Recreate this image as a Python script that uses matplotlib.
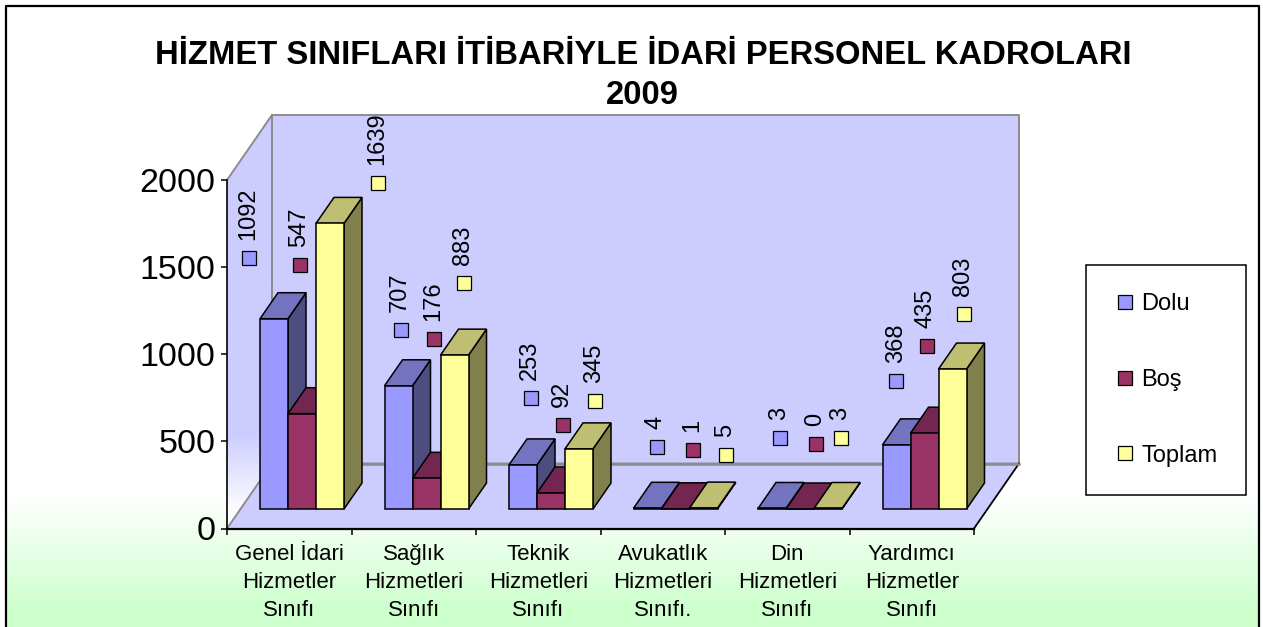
import numpy as np
import matplotlib
matplotlib.use("Agg")
import matplotlib.pyplot as plt
from matplotlib.patches import Polygon
from matplotlib.lines import Line2D

plt.rcParams['font.family'] = ['Liberation Sans', 'DejaVu Sans']

categories = ["Genel İdari\nHizmetler\nSınıfı", "Sağlık\nHizmetleri\nSınıfı", "Teknik\nHizmetleri\nSınıfı",
              "Avukatlık\nHizmetleri\nSınıfı.", "Din\nHizmetleri\nSınıfı", "Yardımcı\nHizmetler\nSınıfı"]
dolu = [1092, 707, 253, 4, 3, 368]
bos = [547, 176, 92, 1, 0, 435]
toplam = [1639, 883, 345, 5, 3, 803]
series_names = ["Dolu", "Boş", "Toplam"]
yticks = [0, 500, 1000, 1500, 2000]

# face, top, side
colors_blue = ["#9999FF", "#7373BF", "#4D4D80"]
colors_red = ["#993366", "#732650", "#4D1A33"]
colors_yellow = ["#FFFF99", "#BFBF73", "#80804D"]

# where the value labels sit, pixels from the centre and top of their bar
label_dx = [[-25, 2, 8, 9, 8, 0], [-2, 7, 12, 17, 16, 2], [48, 9, 16, 22, 13, 11]]
label_lift = [[61, 56, 67, 61, 70, 64], [149, 139, 68, 59, 65, 87], [40, 72, 48, 53, 70, 55]]

W = 1263
H = 627
fig = plt.figure(figsize=(W/100, H/100), dpi=100, facecolor="white")

#######################################
# background and outer frame
#######################################
bg = fig.add_axes([0, 0, 1, 1])
bg.set_xlim(0, W)
bg.set_ylim(H, 0)
bg.axis("off")
t = np.clip((np.arange(H) - 495) / 115.0, 0, 1)[:, None]
grad = np.dstack([1 - 0.2*t, np.ones_like(t), 1 - 0.2*t])
bg.imshow(grad, extent=[6, 1259, H, 0], aspect="auto", zorder=0)
bg.set_xlim(0, W)
bg.set_ylim(H, 0)
bg.plot([6, 6, 1259, 1259], [H, 5.5, 5.5, H], color="black", lw=1.6, zorder=1)

#######################################
# main axes is the front plane of the box
#######################################
x0, x1, ytop, ybot = 227, 974, 180, 528.5
ax = fig.add_axes([x0/W, (H-ybot)/H, (x1-x0)/W, (ybot-ytop)/H])
ax.set_xlim(0, 6)
ax.set_ylim(0, 2000)
ax.patch.set_visible(False)
pxx = (x1-x0)/6.0
pxy = (ybot-ytop)/2000.0

wall_dx = 45/pxx
wall_dy = 65/pxy
ymax = 2000

# left wall fades to white at the bottom
wallcol = np.array([0xCC, 0xCC, 0xFF])/255.0
wall_rows = np.linspace(115, ybot, 200)
f = np.clip((wall_rows - 435) / 80.0, 0, 1)[:, None]
wall_img = np.dstack([wallcol[0] + (1-wallcol[0])*f, wallcol[1] + (1-wallcol[1])*f, np.ones_like(f)])
left_poly = Polygon([(0, 0), (wall_dx, wall_dy), (wall_dx, ymax+wall_dy), (0, ymax)], closed=True,
                    transform=ax.transData, fc="none", ec="none")
ax.add_patch(left_poly)
left_poly.set_clip_on(False)
im = ax.imshow(wall_img, extent=[0, wall_dx, 0, ymax+wall_dy], aspect="auto", origin="upper", zorder=1)
im.set_clip_box(fig.bbox)
im.set_clip_path(left_poly)
ax.set_xlim(0, 6)
ax.set_ylim(0, 2000)

ax.add_patch(Polygon([(wall_dx, wall_dy), (6+wall_dx, wall_dy), (6+wall_dx, ymax+wall_dy), (wall_dx, ymax+wall_dy)],
                     closed=True, fc="#CCCCFF", ec="none", clip_on=False, zorder=1))
ax.add_patch(Polygon([(0, 0), (6, 0), (6+wall_dx, wall_dy), (wall_dx, wall_dy)],
                     closed=True, fc="#CCCCFF", ec="none", clip_on=False, zorder=1))
grey = "#8C8C8C"
for xs, ys in [([0, wall_dx, 6+wall_dx, 6+wall_dx, wall_dx, wall_dx], [ymax, ymax+wall_dy, ymax+wall_dy, wall_dy, wall_dy, ymax+wall_dy]),
               ([0, wall_dx], [0, wall_dy])]:
    ax.plot(xs, ys, color=grey, lw=1.4, clip_on=False, zorder=1.5)
ax.plot([6, 6+wall_dx], [0, wall_dy], color="black", lw=1.3, clip_on=False, zorder=1.5)
ax.plot([wall_dx, 6+wall_dx], [wall_dy, wall_dy], color=grey, lw=1.8, clip_on=False, zorder=1.5)

#######################################
# bars
#######################################
bar_start = 33/pxx
bar_w = 28/pxx
base = 19.5/pxy
depth_x = 18/pxx
depth_y = 26/pxy
all_series = [dolu, bos, toplam]
all_colors = [colors_blue, colors_red, colors_yellow]
z = 3
for i in range(len(categories)):
    for s in range(3):
        v = all_series[s][i]
        c = all_colors[s]
        left = i + bar_start + s*bar_w
        top = base + v
        ax.add_patch(Polygon([(left+bar_w, base), (left+bar_w+depth_x, base+depth_y), (left+bar_w+depth_x, top+depth_y), (left+bar_w, top)],
                             closed=True, fc=c[2], ec="black", lw=1.1, clip_on=False, zorder=z))
        ax.add_patch(Polygon([(left, top), (left+bar_w, top), (left+bar_w+depth_x, top+depth_y), (left+depth_x, top+depth_y)],
                             closed=True, fc=c[1], ec="black", lw=1.1, clip_on=False, zorder=z))
        ax.bar(left, v, bar_w, bottom=base, align="edge", color=c[0], edgecolor="black", lw=1.1, clip_on=False, zorder=z)
        z += 1

ax.set_xlim(0, 6)
ax.set_ylim(0, 2000)

#######################################
# value labels with their small keys
#######################################
for s in range(3):
    for i in range(len(categories)):
        v = all_series[s][i]
        kx = i + bar_start + (s+0.5)*bar_w + label_dx[s][i]/pxx
        ky = base + v + label_lift[s][i]/pxy
        ax.plot([kx], [ky], marker="s", ms=10.5, mfc=all_colors[s][0], mec="black", mew=0.9, ls="none", clip_on=False, zorder=50)
        ax.annotate(str(v), (kx, ky), xytext=(-0.5, 13), textcoords="offset points", rotation=90,
                    ha="center", va="bottom", fontsize=17, annotation_clip=False, zorder=50)

#######################################
# axes decoration
#######################################
for name in ["right", "top"]:
    ax.spines[name].set_visible(False)
ax.spines["bottom"].set_linewidth(1.6)
ax.spines["bottom"].set_zorder(2)
ax.spines["left"].set_linewidth(1.2)
ax.spines["left"].set_zorder(2)
ax.set_yticks(yticks)
ax.tick_params(axis="y", length=4, width=1.1, pad=4.5, labelsize=24.5)
ax.set_xticks(np.arange(0, 7))
ax.set_xticklabels([])
ax.tick_params(axis="x", which="major", length=4.5, width=1.1)
ax.set_xticks(np.arange(6) + 0.5, categories, minor=True)
ax.tick_params(axis="x", which="minor", length=0, pad=11, labelsize=16)
for lab in ax.get_xticklabels(minor=True):
    lab.set_linespacing(1.45)

handles = [Line2D([], [], marker="s", ms=10.5, mfc=c[0], mec="black", mew=0.9, ls="none") for c in all_colors]
leg = fig.legend(handles, series_names, loc="upper left", bbox_to_anchor=(1086/W, 1-265/H), borderaxespad=0,
                 fontsize=17, frameon=True, fancybox=False, edgecolor="black", facecolor="white", framealpha=1,
                 labelspacing=2.27, borderpad=1.2, handletextpad=0.25, handlelength=0.9)
leg.get_frame().set_linewidth(1.1)

fig.text(643.5/W, 1-55/H, "HİZMET SINIFLARI İTİBARİYLE İDARİ PERSONEL KADROLARI", ha="center", va="center",
         fontsize=23.55, fontweight="bold")
fig.text(642/W, 1-95/H, "2009", ha="center", va="center", fontsize=23.55, fontweight="bold")

fig.savefig("out.png", dpi=100)
